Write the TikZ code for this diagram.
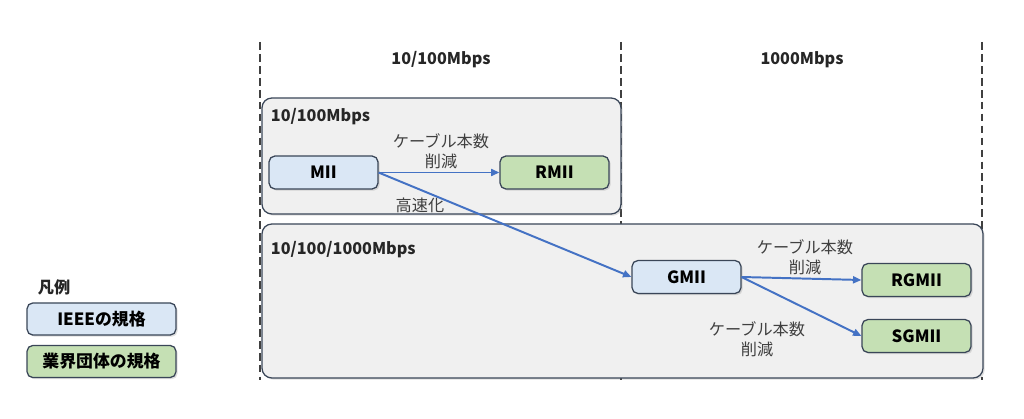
\documentclass[tikz,border=0pt]{standalone}
\usepackage{fontspec}
\setmainfont{Noto Sans CJK JP}
\usetikzlibrary{arrows.meta, positioning, shadows}

\definecolor{ieeeblue}{HTML}{DAE7F5}
\definecolor{groupgreen}{HTML}{C5E0B4}
\definecolor{areagray}{HTML}{F0F0F0}
\definecolor{edgedark}{HTML}{3A4658}
\definecolor{arrowblue}{HTML}{4472C4}
\definecolor{textgray}{HTML}{404040}

\tikzset{
  stdbox/.style={draw=edgedark, line width=0.9pt, rounded corners=4pt,
    minimum width=2.72cm, minimum height=0.82cm, font=\fontsize{12}{14}\selectfont\bfseries,
    drop shadow={opacity=0.25, shadow xshift=1.2pt, shadow yshift=-1.2pt}},
  ieee/.style={stdbox, fill=ieeeblue},
  group/.style={stdbox, fill=groupgreen},
  legendbox/.style={minimum width=3.72cm, minimum height=0.8cm},
  area/.style={draw=edgedark, line width=0.9pt, fill=areagray, rounded corners=7pt,
    drop shadow={opacity=0.25, shadow xshift=1.2pt, shadow yshift=-1.2pt}},
  note/.style={text=textgray, align=center, font=\fontsize{11.5}{14.5}\selectfont},
  heading/.style={text=black!85, font=\fontsize{11.5}{14}\selectfont\bfseries},
  link/.style={draw=arrowblue, line width=1.4pt, -{Triangle[length=6pt, width=5pt]}},
  border/.style={draw=black!75, line width=1.8pt, dash pattern=on 5.5pt off 3pt}
}

\begin{document}
\begin{tikzpicture}[x=0.025cm, y=-0.025cm]
  \useasboundingbox (0,0) rectangle (1024,419);

  % Draw the column borders
  \draw[border] (260,42) -- (260,380);
  \draw[border] (621,42) -- (621,380);
  \draw[border] (982,42) -- (982,380);

  % Draw the speed areas
  \draw[area] (262,98) rectangle (621,214);
  \draw[area] (262,224) rectangle (983,378);

  % Column headings
  \node[heading] (head1) at (441,60) {10/100Mbps};
  \node[heading] (head2) at (802,60) {1000Mbps};
  \node[heading, anchor=west] (area1) at (266,117) {10/100Mbps};
  \node[heading, anchor=west] (area2) at (266,250) {10/100/1000Mbps};

  % Interfaces
  \node[ieee] (MII) at (323.5,172.5) {MII};
  \node[group] (RMII) at (554.5,172.5) {RMII};
  \node[ieee] (GMII) at (686.5,277) {GMII};
  \node[group] (RGMII) at (916.5,280) {RGMII};
  \node[group] (SGMII) at (916.5,336) {SGMII};

  % Draw the arrows between interfaces
  \draw[link] (MII.east) -- (RMII.west);
  \draw[link] (MII.east) -- (GMII.west);
  \draw[link] (GMII.east) -- (RGMII.west);
  \draw[link] (GMII.east) -- (SGMII.west);

  \node[note] (cut1) at (441,151) {ケーブル本数\\削減};
  \node[note] (fast) at (420,205) {高速化};
  \node[note] (cut2) at (805,257) {ケーブル本数\\削減};
  \node[note] (cut3) at (757,339) {ケーブル本数\\削減};

  % Legend
  \node[heading, anchor=west] (legend) at (33,287) {凡例};
  \node[ieee, legendbox] (legieee) at (101.5,319) {IEEEの規格};
  \node[group, legendbox] (leggroup) at (101.5,361.5) {業界団体の規格};
\end{tikzpicture}
\end{document}
